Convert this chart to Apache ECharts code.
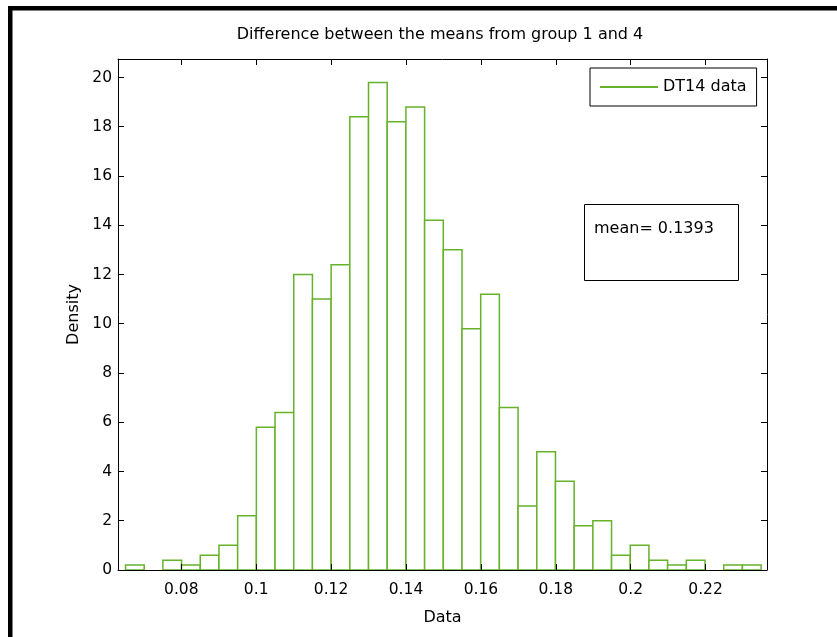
<!DOCTYPE html>
<html>
<head>
<meta charset="utf-8">
<title>Difference between the means</title>
<script src="https://cdn.jsdelivr.net/npm/echarts@6/dist/echarts.min.js"></script>
<style>
html, body { margin: 0; padding: 0; background: #fff; }
#chart { width: 837px; height: 637px; }
</style>
</head>
<body>
<div id="chart"></div>
<script>
// histogram bins (density)
const binStart = 0.0651;
const binWidth = 0.004992;
const density = [0.2, 0, 0.4, 0.2, 0.6, 1.0, 2.2, 5.8, 6.4,
  12.0, 11.0, 12.4, 18.4, 19.8, 18.2, 18.8, 14.2, 13.0, 9.8, 11.2,
  6.6, 2.6, 4.8, 3.6, 1.8, 2.0, 0.6, 1.0, 0.4, 0.2, 0.4, 0, 0.2, 0.2];
const xTicks = [0.08, 0.1, 0.12, 0.14, 0.16, 0.18, 0.2, 0.22];
const yTicks = [0, 2, 4, 6, 8, 10, 12, 14, 16, 18, 20];
const xRange = [0.0631, 0.2364];
const yRange = [0, 20.75];
const seriesName = 'DT14 data';
const meanText = 'mean= 0.1393';

const green = '#66b22a';
const font = 'DejaVu Sans';

let chartDom = document.getElementById('chart');
let myChart = echarts.init(chartDom);

// [left edge, right edge, density]
let bins = density.map((d, i) => [binStart + i * binWidth, binStart + (i + 1) * binWidth, d]);

let axisCommon = {
  type: 'value',
  min: xRange[0],
  max: xRange[1],
  z: 5,
  axisLine: { show: true, onZero: false, lineStyle: { color: '#000', width: 1 } },
  axisTick: { show: true, inside: true, length: 6, customValues: xTicks, lineStyle: { color: '#000' } },
  splitLine: { show: false }
};

let option = {
  animation: false,
  backgroundColor: '#fff',
  title: {
    text: 'Difference between the means from group 1 and 4',
    left: 440,
    top: 27,
    padding: 0,
    textAlign: 'center',
    textStyle: { fontFamily: font, fontSize: 16, fontWeight: 'normal', color: '#000' }
  },
  grid: { left: 118, right: 70, top: 59, bottom: 67, show: false },
  legend: {
    left: 590,
    top: 68,
    padding: [11, 10, 11, 10],
    borderColor: '#000',
    borderWidth: 1,
    backgroundColor: '#fff',
    itemWidth: 58,
    itemHeight: 2,
    data: [{ name: seriesName, icon: 'rect', itemStyle: { color: green } }],
    textStyle: { fontFamily: font, fontSize: 16, color: '#000' }
  },
  xAxis: [
    Object.assign({}, axisCommon, {
      position: 'bottom',
      name: 'Data',
      nameLocation: 'middle',
      nameGap: 40,
      nameTextStyle: { fontFamily: font, fontSize: 16, color: '#000' },
      axisLabel: { show: true, customValues: xTicks, margin: 12, fontFamily: font, fontSize: 15.5, color: '#000' }
    }),
    Object.assign({}, axisCommon, {
      position: 'top',
      axisLabel: { show: false }
    })
  ],
  yAxis: [
    {
      type: 'value',
      min: yRange[0],
      max: yRange[1],
      position: 'left',
      z: 5,
      name: 'Density',
      nameLocation: 'middle',
      nameGap: 36,
      nameTextStyle: { fontFamily: font, fontSize: 16, color: '#000' },
      axisLine: { show: true, onZero: false, lineStyle: { color: '#000', width: 1 } },
      axisTick: { show: true, inside: true, length: 6, customValues: yTicks, lineStyle: { color: '#000' } },
      axisLabel: { show: true, customValues: yTicks, margin: 6, fontFamily: font, fontSize: 15.5, color: '#000' },
      splitLine: { show: false }
    },
    {
      type: 'value',
      min: yRange[0],
      max: yRange[1],
      position: 'right',
      z: 5,
      axisLine: { show: true, onZero: false, lineStyle: { color: '#000', width: 1 } },
      axisTick: { show: true, inside: true, length: 6, customValues: yTicks, lineStyle: { color: '#000' } },
      axisLabel: { show: false },
      splitLine: { show: false }
    }
  ],
  series: [
    {
      name: seriesName,
      type: 'custom',
      xAxisIndex: 0,
      yAxisIndex: 0,
      z: 2,
      itemStyle: { color: green },
      encode: { x: [0, 1], y: 2 },
      renderItem: (params, api) => {
        if (api.value(2) <= 0) return null;
        let p0 = api.coord([api.value(0), 0]);
        let p1 = api.coord([api.value(1), api.value(2)]);
        return {
          type: 'rect',
          shape: { x: p0[0], y: p1[1], width: p1[0] - p0[0], height: p0[1] - p1[1] },
          style: { fill: '#fff', stroke: green, lineWidth: 1.5 }
        };
      },
      data: bins
    }
  ],
  graphic: [
    // figure frame (left and top edges of the screenshot)
    { type: 'rect', shape: { x: 8, y: 6, width: 4.5, height: 640 }, style: { fill: '#000' } },
    { type: 'rect', shape: { x: 8, y: 6, width: 840, height: 4.5 }, style: { fill: '#000' } },
    // annotation box
    {
      type: 'rect',
      z: 10,
      shape: { x: 584.5, y: 204.5, width: 154, height: 76 },
      style: { fill: '#fff', stroke: '#000', lineWidth: 1 }
    },
    {
      type: 'text',
      z: 11,
      x: 594,
      y: 229,
      style: { text: meanText, fontFamily: font, fontSize: 16, fill: '#000', verticalAlign: 'middle' }
    }
  ]
};

option && myChart.setOption(option);
</script>
</body>
</html>
